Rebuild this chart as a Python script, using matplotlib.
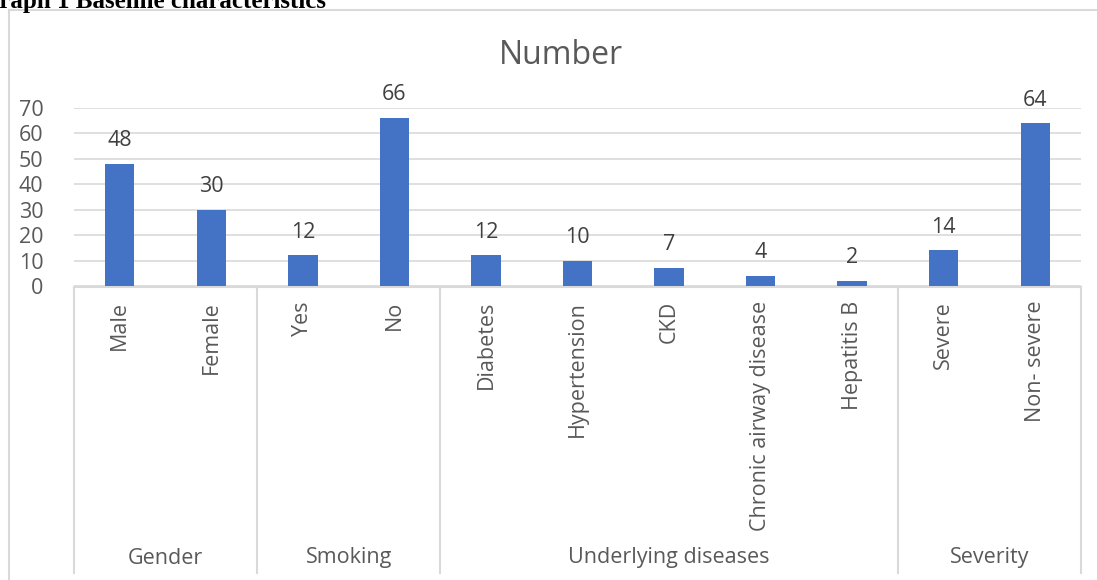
import numpy as np
import matplotlib.pyplot as plt
from matplotlib import transforms
from matplotlib.lines import Line2D

categories = ["Male", "Female", "Yes", "No", "Diabetes", "Hypertension", "CKD",
              "Chronic airway disease", "Hepatitis B", "Severe", "Non- severe"]
counts = [48, 30, 12, 66, 12, 10, 7, 4, 2, 14, 64]
groups = ["Gender", "Smoking", "Underlying diseases", "Severity"]
groupSizes = [2, 2, 5, 2]

W, H = 1097, 580
barColor = "#4472C4"
textColor = "#595959"
gridColor = "#D9D9D9"
font = "Open Sans"

fig = plt.figure(figsize=(W / 100, H / 100), dpi=100)

def fx(px):
	return px / W

def fy(py):
	return 1 - py / H

# page header (cut off at the top, as in the source page) and chart frame
fig.text(fx(326), fy(8), "Graph 1 Baseline characteristics", ha="right", va="baseline",
	fontsize=18, fontweight="bold", family="Liberation Serif", color="black")
fig.add_artist(Line2D([fx(9), fx(9)], [fy(10), 0], color=gridColor, lw=1.5))
fig.add_artist(Line2D([fx(9), 1], [fy(10), fy(10)], color=gridColor, lw=1.5))

ax = fig.add_axes([fx(74), fy(286), fx(1081) - fx(74), fy(108) - fy(286)])
x = np.arange(len(categories))
ax.bar(x, counts, width=0.32, color=barColor, zorder=3)
ax.set_xlim(-0.5, len(categories) - 0.5)
ax.set_ylim(0, 70)
ax.set_yticks(range(0, 71, 10))
ax.grid(axis="y", color=gridColor, lw=1.2, zorder=0)
for s in ax.spines.values():
	s.set_visible(False)
ax.tick_params(axis="y", length=0, labelsize=15.5, labelcolor=textColor, pad=22)
for lab in ax.get_yticklabels():
	lab.set_family(font)
ax.set_xticks([])

for xi, v in zip(x, counts):
	ax.text(xi, v + 5, str(v), ha="center", va="bottom", fontsize=15.5,
		color="#404040", family=font)

# category labels (rotated) under the axis
trans = transforms.blended_transform_factory(ax.transData, fig.transFigure)
for xi, c in zip(x, categories):
	ax.text(xi, fy(301), c, rotation=90, ha="center", va="top", fontsize=15.5,
		color=textColor, family=font, transform=trans)

# axis line and group separators
ax.add_line(Line2D([-0.5, len(categories) - 0.5], [fy(287), fy(287)], color=gridColor,
	lw=1.5, transform=trans, clip_on=False))
edges = np.concatenate([[0], np.cumsum(groupSizes)]) - 0.5
for e in edges:
	ax.add_line(Line2D([e, e], [fy(287), fy(573)], color=gridColor, lw=1.5,
		transform=trans, clip_on=False))
for g, a, b in zip(groups, edges[:-1], edges[1:]):
	ax.text((a + b) / 2, fy(558), g, ha="center", va="center", fontsize=15.5,
		color=textColor, family=font, transform=trans)

fig.text(fx(561), fy(55), "Number", ha="center", va="center", fontsize=23,
	color=textColor, family=font)

fig.savefig("out.png", dpi=100)
